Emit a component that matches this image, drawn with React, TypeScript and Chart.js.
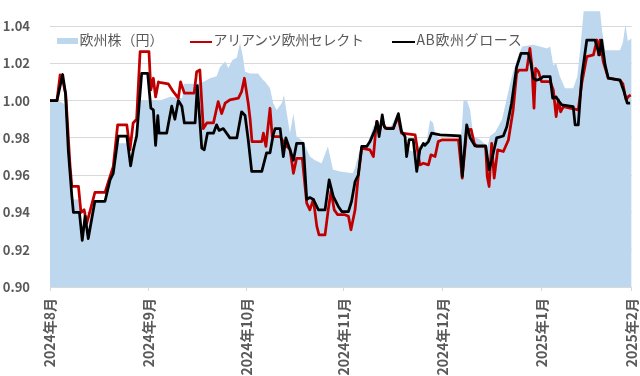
import React, { useEffect, useRef } from "react";
import { Chart, registerables } from "chart.js";

Chart.register(...registerables);

const FONT = '"Noto Sans CJK JP", "Noto Sans", sans-serif';

// x unit: days from 2024-08-01 (axis 0..184)
const MONTH_TICKS = [0, 31.1, 62.2, 92.8, 124.2, 155.5, 184];
const MONTH_LABELS = ["2024年8月", "2024年9月", "2024年10月", "2024年11月", "2024年12月", "2025年1月", "2025年2月"];
const Y_TICKS = [0.9, 0.92, 0.94, 0.96, 0.98, 1.0, 1.02, 1.04];

const SERIES_LABELS = ["欧州株（円）", "アリアンツ欧州セレクト", "AB欧州グロース"];

const EU_X = [0, 2.5, 4.7, 5.8, 6.9, 7.4, 9.5, 10.1, 12.0, 13.3, 14.2, 17.4, 19.0, 20.6, 21.6, 24.3, 25.5, 26.3, 27.4, 28.2, 28.8, 34.8, 38.0, 41.8, 42.4, 46.5, 48.4, 50.6, 52.7, 53.8, 55.4, 56.4, 57.7, 59.1, 60.1, 61.0, 61.7, 63.3, 65.8, 67.4, 68.0, 69.6, 70.6, 71.7, 73.3, 74.0, 74.9, 75.9, 77.0, 78.0, 80.1, 82.2, 83.8, 85.9, 87.9, 89.5, 91.7, 95.8, 96.5, 98.1, 100.3, 102.2, 103.8, 105.3, 107.5, 109.8, 111.3, 112.3, 114.5, 117.0, 119.2, 120.2, 121.2, 121.8, 123.4, 129.7, 130.3, 130.8, 131.9, 132.9, 133.9, 136.1, 138.4, 139.2, 140.8, 143.0, 144.6, 146.1, 147.7, 149.3, 152.8, 155.0, 157.2, 158.2, 159.2, 160.1, 161.3, 162.9, 165.5, 166.8, 167.8, 168.8, 174.0, 174.6, 175.6, 180.3, 181.2, 182.0, 182.8, 184.0];
const EU_Y = [1.0, 1.0, 0.998, 0.97, 0.9486, 0.947, 0.947, 0.933, 0.932, 0.942, 0.946, 0.946, 0.9557, 0.9664, 0.9771, 0.9771, 0.9646, 0.9718, 0.977, 0.995, 1.0, 1.0, 1.002, 1.0013, 1.009, 1.009, 1.01, 1.012, 1.013, 1.018, 1.021, 1.0175, 1.0218, 1.023, 1.031, 1.0236, 1.0155, 1.0146, 1.0146, 1.011, 1.0102, 1.0066, 0.9986, 0.995, 0.9986, 1.003, 0.9932, 0.9825, 0.993, 0.9807, 0.978, 0.97, 0.968, 0.9664, 0.9754, 0.963, 0.962, 0.961, 0.964, 0.9745, 0.9754, 0.986, 0.988, 0.985, 0.985, 0.993, 0.985, 0.9754, 0.9727, 0.976, 0.9786, 0.9896, 0.988, 0.9825, 0.979, 0.979, 0.986, 1.0, 1.0, 0.995, 0.981, 0.979, 0.9754, 0.981, 0.983, 0.99, 1.002, 1.013, 1.022, 1.029, 1.03, 1.029, 1.028, 1.029, 1.019, 1.02, 1.0129, 1.0066, 1.0066, 1.0129, 1.029, 1.048, 1.048, 1.038, 1.027, 1.027, 1.031, 1.0405, 1.032, 1.0334];

const ALLIANZ_X = [0, 2.2, 3.2, 3.9, 5.0, 6.3, 6.9, 9.0, 9.8, 10.8, 11.6, 12.7, 14.2, 17.4, 19.0, 20.0, 21.4, 24.3, 25.3, 26.3, 27.4, 28.5, 31.3, 31.9, 32.7, 33.4, 34.3, 35.1, 37.4, 39.0, 40.6, 41.3, 42.5, 45.6, 46.4, 47.4, 48.5, 49.6, 51.7, 53.2, 54.3, 55.4, 56.9, 59.6, 60.6, 61.5, 62.7, 63.3, 63.9, 67.0, 67.5, 68.3, 69.6, 70.3, 72.8, 73.8, 74.9, 75.9, 77.0, 78.0, 79.8, 81.2, 82.2, 83.3, 84.4, 85.1, 87.0, 88.0, 88.9, 89.9, 91.0, 93.3, 94.4, 95.2, 96.5, 97.5, 98.6, 101.2, 102.3, 103.3, 104.1, 105.1, 106.0, 108.6, 110.0, 111.2, 115.5, 117.0, 118.1, 119.7, 120.5, 121.8, 122.8, 123.9, 129.2, 130.4, 131.8, 133.2, 134.2, 135.0, 137.8, 138.3, 138.9, 139.7, 140.5, 141.6, 143.4, 145.0, 146.5, 147.6, 148.4, 150.8, 151.8, 152.4, 153.1, 153.6, 154.5, 155.5, 158.2, 159.2, 160.1, 160.8, 161.5, 162.4, 164.5, 167.1, 168.2, 169.8, 171.9, 173.0, 173.5, 174.0, 175.0, 176.6, 180.3, 181.2, 182.2, 182.9, 183.7];
const ALLIANZ_Y = [1.0, 1.0, 1.0138, 1.012, 1.003, 0.966, 0.954, 0.954, 0.94, 0.9414, 0.934, 0.941, 0.9507, 0.9507, 0.9593, 0.9646, 0.987, 0.987, 0.9736, 0.988, 0.99, 1.0263, 1.0263, 1.0057, 1.012, 1.002, 1.01, 1.0096, 1.009, 1.0048, 1.0013, 1.01, 1.004, 1.004, 1.0155, 1.0164, 0.985, 0.988, 0.988, 0.9995, 0.993, 0.9986, 1.0004, 1.0013, 1.0048, 1.012, 0.9986, 0.99, 0.978, 0.978, 0.9825, 0.9754, 0.9959, 0.9807, 0.9807, 0.978, 0.9754, 0.974, 0.961, 0.969, 0.969, 0.945, 0.9414, 0.947, 0.9325, 0.928, 0.928, 0.9414, 0.9513, 0.9414, 0.9388, 0.9388, 0.938, 0.9307, 0.9414, 0.9593, 0.9745, 0.9736, 0.97, 0.9888, 0.9825, 0.9896, 0.9852, 0.9852, 0.9914, 0.9825, 0.9816, 0.9655, 0.9664, 0.9655, 0.9709, 0.97, 0.978, 0.9789, 0.9789, 0.9584, 0.9843, 0.9846, 0.9771, 0.9754, 0.9754, 0.9593, 0.9539, 0.9771, 0.9584, 0.9736, 0.9727, 0.9789, 0.995, 1.0146, 1.0164, 1.0164, 1.028, 1.019, 0.9959, 1.0173, 1.0155, 1.0102, 1.0102, 1.0057, 0.9914, 1.0004, 0.994, 0.9968, 0.996, 0.995, 1.0093, 1.0236, 1.0245, 1.0325, 1.0245, 1.0325, 1.0209, 1.012, 1.011, 1.009, 1.0004, 1.0021, 1.003];

const AB_X = [0, 2.2, 4.0, 4.9, 5.8, 6.9, 7.4, 9.3, 10.2, 11.1, 12.1, 14.2, 17.4, 19.0, 20.0, 21.6, 24.3, 25.5, 26.3, 27.4, 29.0, 30.9, 31.9, 32.7, 33.4, 34.1, 34.5, 36.9, 38.5, 39.5, 40.6, 41.7, 42.5, 45.9, 46.6, 48.0, 48.8, 49.8, 51.7, 52.7, 53.5, 54.8, 56.9, 59.1, 60.6, 61.7, 62.7, 63.8, 67.0, 68.5, 69.6, 70.6, 71.2, 72.8, 73.8, 74.6, 75.9, 77.0, 78.0, 80.1, 81.2, 82.2, 83.3, 84.9, 87.0, 88.3, 89.6, 91.2, 92.3, 94.4, 95.4, 96.5, 97.5, 98.6, 100.2, 101.2, 102.8, 103.5, 104.1, 105.1, 105.7, 106.5, 108.6, 110.2, 111.2, 112.3, 112.8, 113.6, 114.9, 116.0, 117.0, 118.1, 118.6, 119.7, 120.7, 123.4, 129.7, 130.4, 131.8, 132.9, 134.4, 137.8, 138.9, 139.7, 141.3, 143.4, 144.5, 146.0, 147.6, 149.0, 151.3, 152.1, 152.9, 153.9, 155.0, 156.0, 158.2, 159.0, 160.1, 160.8, 161.9, 165.5, 166.1, 167.1, 168.2, 169.8, 172.4, 173.8, 174.5, 175.6, 176.6, 180.3, 181.4, 182.6, 183.5];
const AB_Y = [1.0, 1.0, 1.014, 1.004, 0.973, 0.949, 0.94, 0.94, 0.925, 0.938, 0.926, 0.946, 0.946, 0.9575, 0.961, 0.981, 0.981, 0.965, 0.973, 0.981, 1.0146, 1.0146, 0.996, 0.995, 0.976, 0.992, 0.9825, 0.9825, 0.997, 0.99, 1.0, 0.997, 0.988, 0.988, 1.008, 0.9745, 0.9736, 0.9825, 0.9825, 0.987, 0.984, 0.985, 0.98, 0.98, 0.994, 0.992, 0.979, 0.962, 0.962, 0.972, 0.972, 0.9816, 0.985, 0.985, 0.97, 0.98, 0.9736, 0.968, 0.977, 0.977, 0.947, 0.948, 0.947, 0.9414, 0.9414, 0.9575, 0.9486, 0.9432, 0.9405, 0.9405, 0.946, 0.9566, 0.96, 0.9754, 0.9754, 0.978, 0.9843, 0.9888, 0.9807, 0.9923, 0.986, 0.985, 0.985, 0.993, 0.9834, 0.9807, 0.97, 0.979, 0.979, 0.962, 0.9736, 0.977, 0.976, 0.978, 0.9825, 0.9816, 0.9811, 0.9593, 0.987, 0.98, 0.9757, 0.9757, 0.963, 0.968, 0.98, 0.981, 0.986, 0.9986, 1.018, 1.0254, 1.0254, 1.02, 1.012, 1.011, 1.0115, 1.0129, 1.0129, 1.0013, 1.002, 1.0, 0.9977, 0.9968, 0.987, 0.987, 1.0129, 1.0325, 1.0325, 1.0245, 1.0325, 1.019, 1.012, 1.011, 1.0057, 0.9986, 0.9986];

const toPoints = (xs: number[], ys: number[]) => xs.map((x, i) => ({ x, y: ys[i] }));

export default function App() {
  const ref = useRef<HTMLCanvasElement>(null);

  useEffect(() => {
    if (!ref.current) return;
    const chart = new Chart(ref.current, {
      type: "line",
      data: {
        datasets: [
          {
            label: SERIES_LABELS[0],
            data: toPoints(EU_X, EU_Y),
            borderWidth: 0,
            borderColor: "rgba(0,0,0,0)",
            backgroundColor: "#BDD7EE",
            fill: "start",
            pointRadius: 0,
            order: 3,
          },
          {
            label: SERIES_LABELS[1],
            data: toPoints(ALLIANZ_X, ALLIANZ_Y),
            borderColor: "#C00000",
            borderWidth: 2.75,
            fill: false,
            pointRadius: 0,
            order: 2,
          },
          {
            label: SERIES_LABELS[2],
            data: toPoints(AB_X, AB_Y),
            borderColor: "#000000",
            borderWidth: 2.75,
            fill: false,
            pointRadius: 0,
            order: 1,
          },
        ],
      },
      options: {
        animation: false,
        responsive: false,
        devicePixelRatio: 1,
        layout: { padding: { top: 7.4, right: 8.3, bottom: 0, left: 0 } },
        plugins: { legend: { display: false }, tooltip: { enabled: false } },
        elements: { line: { tension: 0, borderJoinStyle: "round" } },
        scales: {
          x: {
            type: "linear",
            min: 0,
            max: 184,
            afterBuildTicks: (s: any) => {
              s.ticks = MONTH_TICKS.map((v) => ({ value: v }));
            },
            afterFit: (s: any) => {
              s.height = 89;
              s.paddingLeft = 0;
              s.paddingRight = 0;
            },
            ticks: {
              autoSkip: false,
              minRotation: 90,
              maxRotation: 90,
              padding: 7,
              color: "#595959",
              font: { family: FONT, size: 14, weight: "bold", lineHeight: 1 },
              callback: (_v: any, i: number) => MONTH_LABELS[i],
            },
            grid: { drawOnChartArea: false, drawTicks: true, tickLength: 4, color: "#D9D9D9" },
            border: { display: true, color: "#D9D9D9" },
          },
          y: {
            type: "linear",
            min: 0.9,
            max: 1.05,
            afterBuildTicks: (s: any) => {
              s.ticks = Y_TICKS.map((v) => ({ value: v }));
            },
            afterFit: (s: any) => {
              s.width = 50;
              s.paddingTop = 0;
              s.paddingBottom = 0;
            },
            ticks: {
              padding: 20,
              color: "#595959",
              font: { family: FONT, size: 13, weight: "bold", lineHeight: 1 },
              callback: (v: any) => Number(v).toFixed(2),
            },
            grid: { color: "#D9D9D9", drawTicks: false },
            border: { display: false },
          },
        },
      },
    } as any);
    return () => chart.destroy();
  }, []);

  const textStyle: React.CSSProperties = {
    position: "absolute",
    top: 32,
    fontFamily: FONT,
    fontSize: 14,
    lineHeight: "14px",
    color: "#595959",
    whiteSpace: "nowrap",
  };

  return (
    <div style={{ position: "absolute", left: 0, top: 0, width: 640, height: 376, overflow: "hidden", background: "#fff" }}>
      <canvas ref={ref} width={640} height={376} style={{ display: "block", width: 640, height: 376 }} />
      <div style={{ position: "absolute", left: 57, top: 38, width: 21, height: 6, background: "#BDD7EE" }} />
      <div style={{ ...textStyle, left: 79.5 }}>{SERIES_LABELS[0]}</div>
      <div style={{ position: "absolute", left: 189.5, top: 40.5, width: 22, height: 2.5, background: "#C00000" }} />
      <div style={{ ...textStyle, left: 213.5, letterSpacing: "-0.3px" }}>{SERIES_LABELS[1]}</div>
      <div style={{ position: "absolute", left: 391.5, top: 40.5, width: 23, height: 2.5, background: "#000000" }} />
      <div style={{ ...textStyle, left: 416.5, letterSpacing: "0.6px" }}>{SERIES_LABELS[2]}</div>
    </div>
  );
}
